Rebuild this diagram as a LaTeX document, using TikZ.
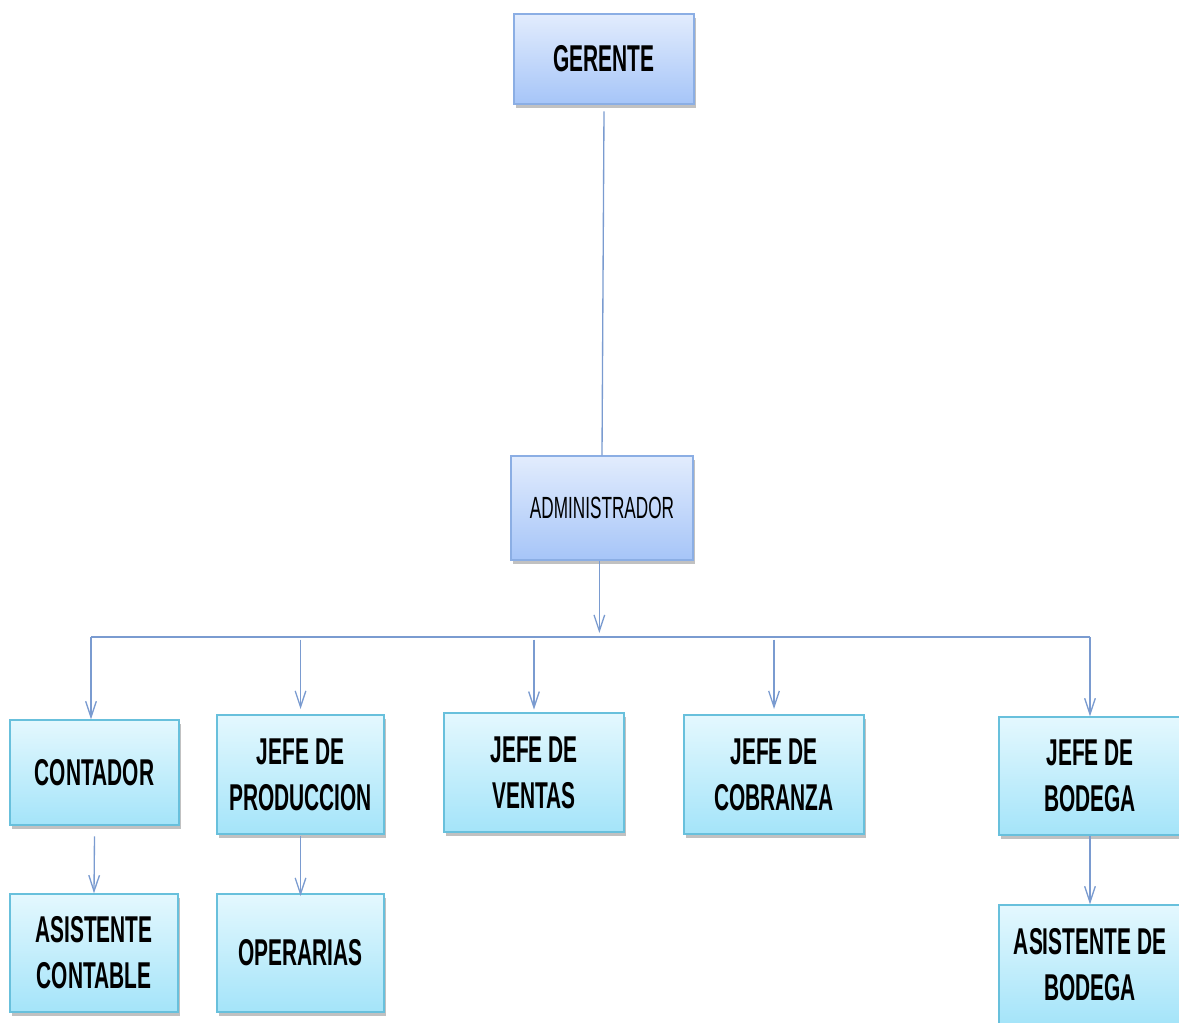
\documentclass[tikz,border=0pt]{standalone}
\usepackage{fontspec}
\newfontfamily\orgfont{Liberation Sans}[FakeStretch=0.56]
\usetikzlibrary{arrows.meta,shadows}

\definecolor{lineblue}{RGB}{122,155,208}
\definecolor{blueedge}{RGB}{139,174,228}
\definecolor{bluetop}{RGB}{226,236,253}
\definecolor{bluebot}{RGB}{166,197,248}
\definecolor{cyanedge}{RGB}{104,192,220}
\definecolor{cyantop}{RGB}{228,248,254}
\definecolor{cyanbot}{RGB}{164,228,249}

\tikzset{every picture/.style={line width=0.75pt}}
\tikzset{
  bluebox/.style={draw=blueedge, line width=1pt, top color=bluetop, bottom color=bluebot,
    drop shadow={shadow xshift=1.5pt, shadow yshift=-3pt, opacity=0.35, fill=black!70},
    align=center, inner sep=0pt},
  cyanbox/.style={draw=cyanedge, line width=1pt, top color=cyantop, bottom color=cyanbot,
    drop shadow={shadow xshift=1.5pt, shadow yshift=-3pt, opacity=0.35, fill=black!70},
    align=center, inner sep=0pt},
  boxtext/.style={font=\orgfont\bfseries\fontsize{28}{34.5}\selectfont},
  link/.style={draw=lineblue, line width=1pt},
  arr/.style={link, -{Straight Barb[length=12pt,width=8pt]}}
}

\begin{document}
\begin{tikzpicture}[x=0.75pt,y=0.75pt,yscale=-1,xscale=1]
  \useasboundingbox (0,0) rectangle (1179,1023);

  % Top boxes
  \node[bluebox, boxtext, minimum width=135pt, minimum height=67.5pt] (gerente) at (604,59) {GERENTE};
  \node[bluebox, font=\orgfont\fontsize{23}{28}\selectfont, minimum width=136.5pt, minimum height=78pt] (admin) at (602,508) {ADMINISTRADOR};

  % Second level
  \node[cyanbox, boxtext, minimum width=126.75pt, minimum height=78.75pt] (contador) at (94.5,772.5) {CONTADOR};
  \node[cyanbox, boxtext, minimum width=125.25pt, minimum height=89.25pt] (produccion) at (300.5,774.5) {JEFE DE\\PRODUCCION};
  \node[cyanbox, boxtext, minimum width=135pt, minimum height=89.25pt] (ventas) at (534,772.5) {JEFE DE\\VENTAS};
  \node[cyanbox, boxtext, minimum width=135pt, minimum height=89.25pt] (cobranza) at (774,774.5) {JEFE DE\\COBRANZA};
  \node[cyanbox, boxtext, minimum width=136.5pt, minimum height=88.5pt] (bodega) at (1090,776) {JEFE DE\\BODEGA};

  % Third level
  \node[cyanbox, boxtext, minimum width=126pt, minimum height=88.5pt] (asistcont) at (94,953) {ASISTENTE\\CONTABLE};
  \node[cyanbox, boxtext, minimum width=125.25pt, minimum height=88.5pt] (operarias) at (300.5,953) {OPERARIAS};
  \node[cyanbox, boxtext, minimum width=136.5pt, minimum height=90pt] (asistbod) at (1090,965) {ASISTENTE DE\\BODEGA};

  % Bus line
  \coordinate (busL) at (91,637);
  \coordinate (busR) at (1090,637);
  \coordinate (busM) at ([xshift=-2pt]admin.south |- busL);

  % Connectors
  \draw[link] ([yshift=5pt]gerente.south) -- (admin.north);
  \draw[arr] ([xshift=-2pt]admin.south) -- ([yshift=-3pt]busM);
  \draw[link] (busL) -- (busR);
  \draw[arr] (busL) -- (busL |- contador.north);
  \draw[arr] ([yshift=2pt]produccion.north |- busL) -- ([yshift=-4pt]produccion.north);
  \draw[arr] ([yshift=2pt]ventas.north |- busL) -- ([yshift=-2pt]ventas.north);
  \draw[arr] ([yshift=2pt]cobranza.north |- busL) -- ([yshift=-4pt]cobranza.north);
  \draw[arr] (busR) -- (bodega.north);
  \draw[arr] ([yshift=8pt]contador.south) -- (asistcont.north);
  \draw[arr] ([yshift=1pt]produccion.south) -- ([yshift=2pt]operarias.north);
  \draw[arr] (bodega.south) -- (asistbod.north);
\end{tikzpicture}
\end{document}
